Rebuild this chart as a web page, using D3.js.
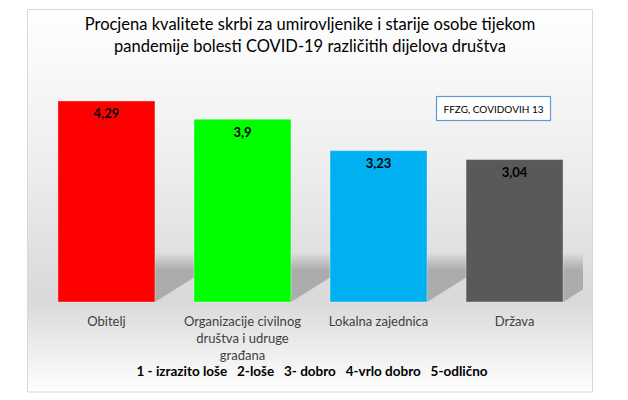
<!DOCTYPE html>
<html>
<head>
<meta charset="utf-8">
<script src="https://cdn.jsdelivr.net/npm/d3@7"></script>
<style>
  html, body { margin: 0; padding: 0; background: #ffffff; }
  svg { display: block; }
  text { font-family: Lato, "Open Sans", sans-serif; }
</style>
</head>
<body>
<svg id="chart" width="628" height="400"></svg>
<script>
// ---- data ----
const titleLines = [
  "Procjena kvalitete skrbi za umirovljenike i starije osobe tijekom",
  "pandemije bolesti COVID-19 različitih dijelova društva"
];
const categories = ["Obitelj", "Organizacije civilnog društva i udruge građana", "Lokalna zajednica", "Država"];
const categoryLines = [["Obitelj"], ["Organizacije civilnog", "društva i udruge", "građana"], ["Lokalna zajednica"], ["Država"]];
const values = [4.29, 3.9, 3.23, 3.04];
const valueLabels = ["4,29", "3,9", "3,23", "3,04"];
const barColors = ["#ff0000", "#00ff00", "#00b0f0", "#595959"];
const sourceNote = "FFZG, COVIDOVIH 13";
const scaleNote = "1 - izrazito loše   2-loše   3- dobro   4-vrlo dobro   5-odlično";

// ---- layout ----
const svg = d3.select("#chart");
const frame = {x: 27.5, y: 9.5, w: 565, h: 382.5};
const baseY = 302;

const defs = svg.append("defs");
const bg = defs.append("linearGradient").attr("id", "bg").attr("x1", 0).attr("y1", 0).attr("x2", 0).attr("y2", 1);
bg.append("stop").attr("offset", "0%").attr("stop-color", "#ffffff");
bg.append("stop").attr("offset", "40%").attr("stop-color", "#eeeeee");
bg.append("stop").attr("offset", "76%").attr("stop-color", "#d9d9d9");
bg.append("stop").attr("offset", "100%").attr("stop-color", "#ffffff");

const sh = defs.append("linearGradient").attr("id", "sh").attr("gradientUnits", "userSpaceOnUse")
  .attr("x1", 0).attr("y1", 252).attr("x2", 0).attr("y2", 270);
sh.append("stop").attr("offset", "0%").attr("stop-color", "#acacac").attr("stop-opacity", 0);
sh.append("stop").attr("offset", "100%").attr("stop-color", "#acacac").attr("stop-opacity", 1);

defs.append("clipPath").attr("id", "plotclip").append("rect")
  .attr("x", 30).attr("y", 60).attr("width", 553).attr("height", 250);

svg.append("rect")
  .attr("x", frame.x).attr("y", frame.y).attr("width", frame.w).attr("height", frame.h)
  .attr("fill", "url(#bg)").attr("stroke", "#d9d9d9").attr("stroke-width", 1);

const x = d3.scaleBand().domain(categories).range([38.5, 582.5]).paddingInner(0.287).paddingOuter(0.143);
const y = d3.scaleLinear().domain([0, 5]).range([baseY, 67.7]);

// shadows
const gShadow = svg.append("g").attr("clip-path", "url(#plotclip)");
gShadow.selectAll("path").data(categories).join("path")
  .attr("d", d => {
    const xr = x(d) + x.bandwidth();
    return `M${xr},${baseY} L${xr + 64},${baseY - 40} L${xr + 64},252 L${xr},252 Z`;
  })
  .attr("fill", "url(#sh)");

// bars
svg.append("g").selectAll("rect").data(categories).join("rect")
  .attr("x", d => x(d)).attr("width", x.bandwidth())
  .attr("y", (d, i) => y(values[i]))
  .attr("height", (d, i) => baseY - y(values[i]))
  .attr("fill", (d, i) => barColors[i])
  .attr("stroke", "#ffffff").attr("stroke-opacity", 0.35).attr("stroke-width", 1);

// value labels
svg.append("g").selectAll("text").data(categories).join("text")
  .attr("x", d => x(d) + x.bandwidth() / 2)
  .attr("y", (d, i) => y(values[i]) + 17.5)
  .attr("text-anchor", "middle")
  .attr("font-size", 13).attr("font-weight", "bold").attr("fill", "#000")
  .text((d, i) => valueLabels[i]);

// category axis labels
const gCat = svg.append("g");
categories.forEach((c, i) => {
  const t = gCat.append("text")
    .attr("x", x(c) + x.bandwidth() / 2)
    .attr("y", 326)
    .attr("text-anchor", "middle")
    .attr("font-size", 13).attr("fill", "#404040");
  categoryLines[i].forEach((ln, j) => {
    t.append("tspan").attr("x", x(c) + x.bandwidth() / 2).attr("dy", j === 0 ? 0 : 17).text(ln);
  });
});

// title
const tt = svg.append("text").attr("text-anchor", "middle").attr("font-size", 16.5).attr("fill", "#000");
titleLines.forEach((ln, j) => {
  tt.append("tspan").attr("x", 310).attr("y", 30 + j * 22).text(ln);
});

// source box
svg.append("rect").attr("x", 436.5).attr("y", 96.5).attr("width", 114).attr("height", 24)
  .attr("fill", "#ffffff").attr("stroke", "#5b9bd5").attr("stroke-width", 1.2);
svg.append("text").attr("x", 493.5).attr("y", 112.5).attr("text-anchor", "middle")
  .attr("font-size", 10).attr("fill", "#000").text(sourceNote);

// scale note
svg.append("text").attr("x", 312).attr("y", 376).attr("text-anchor", "middle")
  .attr("font-size", 13.5).attr("font-weight", "bold").attr("fill", "#000")
  .style("white-space", "pre").attr("xml:space", "preserve")
  .text(scaleNote);
</script>
</body>
</html>
